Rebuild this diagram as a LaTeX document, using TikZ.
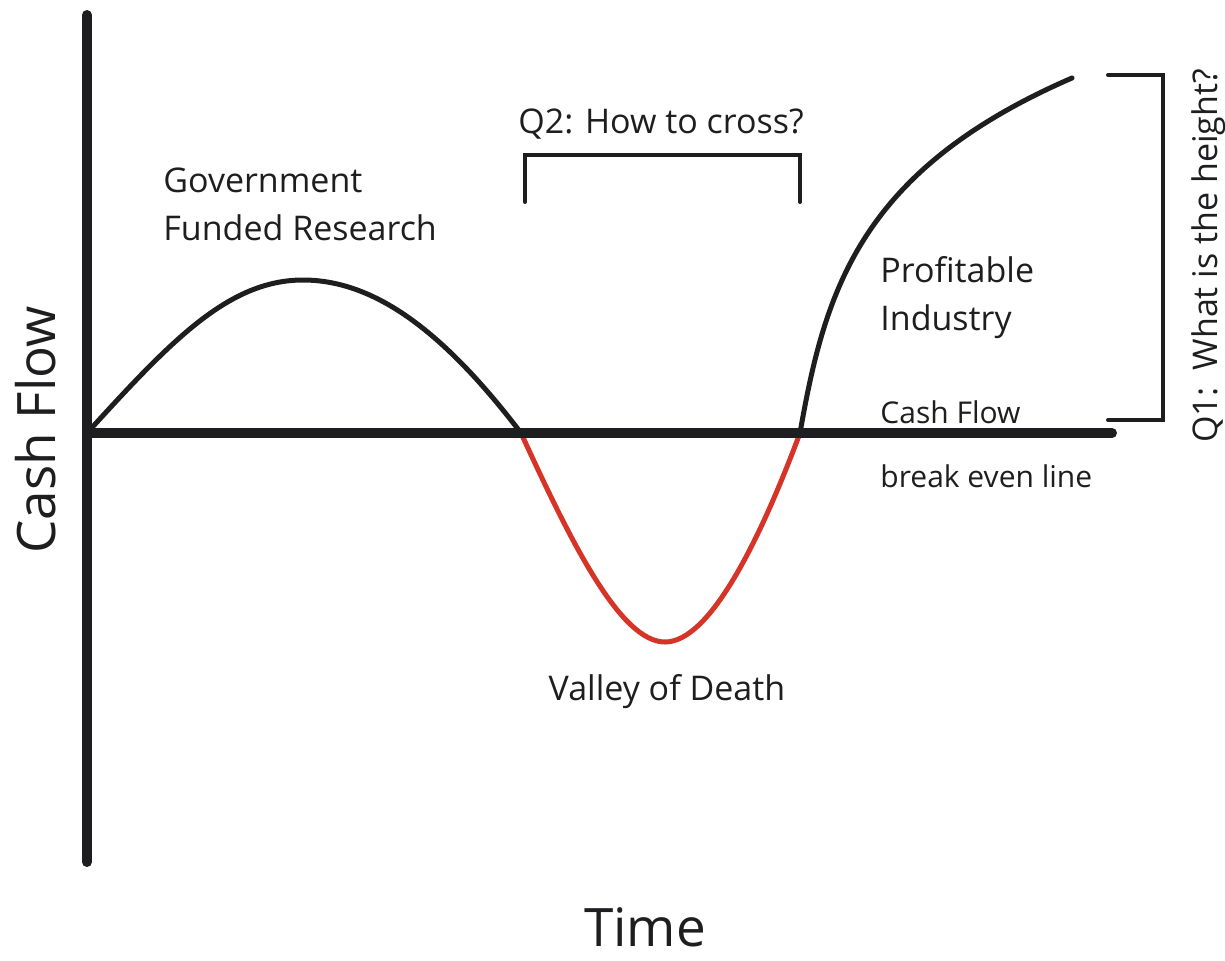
\documentclass[tikz,border=0pt]{standalone}
\usepackage{fontspec}
\setmainfont{Open Sans}
\definecolor{valley}{RGB}{214,52,38}
\definecolor{ink}{RGB}{30,30,32}
\begin{document}
\begin{tikzpicture}[x=0.5pt,y=-0.5pt,
  axis/.style={line width=5pt,ink,line cap=round},
  curve/.style={line width=2.5pt,ink,line cap=round},
  bracket/.style={line width=2pt,ink,line cap=round,line join=miter},
  lbl/.style={inner sep=0pt,anchor=base west,text=ink,font=\fontsize{17pt}{20pt}\selectfont},
  small/.style={lbl,font=\fontsize{15pt}{18pt}\selectfont},
  big/.style={inner sep=0pt,text=ink,font=\fontsize{26.5pt}{30pt}\selectfont}]
\useasboundingbox (0,0) rectangle (1225,960);
% coordinates
\coordinate (top) at (87,15);
\coordinate (bot) at (87,862);
\coordinate (o) at (87,433);
\coordinate (xend) at (1112,433);
\coordinate (c1) at (521,433);
\coordinate (c2) at (800,433);
\coordinate (peak) at (303,280);
\coordinate (low) at (665,642);
\coordinate (fin) at (1072,78);
% curves
\draw[curve] (o) .. controls (170,342) and (228,280) .. (peak)
  .. controls (380,280) and (450,340) .. (c1);
\draw[curve,valley] (c1) .. controls (570,540) and (620,642) .. (low)
  .. controls (710,642) and (760,540) .. (c2);
\draw[curve] (c2) .. controls (825,290) and (860,170) .. (fin);
% axes
\draw[axis] (top) -- (bot);
\draw[axis] (o) -- (xend);
% Q2 bracket
\coordinate (q2a) at (525,202);
\coordinate (q2b) at (525,155);
\coordinate (q2c) at (800,155);
\coordinate (q2d) at (800,202);
\draw[bracket] (q2a) -- (q2b) -- (q2c) -- (q2d);
% Q1 bracket
\coordinate (q1a) at (1108,75);
\coordinate (q1b) at (1163,75);
\coordinate (q1c) at (1163,420);
\coordinate (q1d) at (1108,420);
\draw[bracket] (q1a) -- (q1b) -- (q1c) -- (q1d);
% labels
\node[lbl] (gov) at (163,192) {Government};
\node[lbl] (fund) at (163,240) {Funded Research};
\node[lbl,anchor=base] (q2) at (661,133) {Q2: How to cross?};
\node[lbl] (prof) at (880,282) {Profitable};
\node[lbl] (ind) at (880,330) {Industry};
\node[small] (cf) at (880,423) {Cash Flow};
\node[small] (be) at (880,487) {break even line};
\node[lbl,anchor=base] (vod) at (667,700) {Valley of Death};
\node[big,anchor=base,text depth=0pt] (time) at (645,946) {Time};
\node[big,anchor=base,rotate=90] (ycf) at (55,430) {Cash Flow};
\node[lbl,anchor=base,rotate=90] (q1) at (1217,256) {Q1:\ \ What is the height?};
\end{tikzpicture}
\end{document}
